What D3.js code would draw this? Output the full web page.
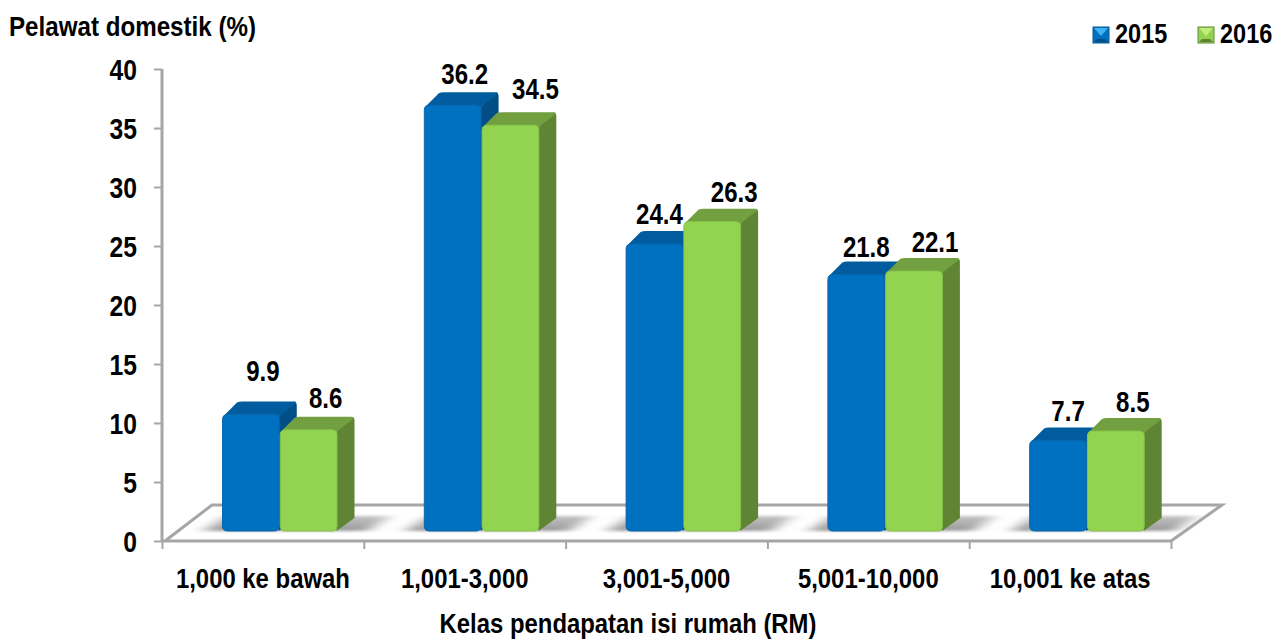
<!DOCTYPE html>
<html><head><meta charset="utf-8">
<script src="https://cdn.jsdelivr.net/npm/d3@7"></script>
<style>
html,body{margin:0;padding:0;background:#fff}
svg{display:block}
text{font-family:"Liberation Sans",Arial,sans-serif;font-weight:700;fill:#000}
</style></head><body>
<svg id="c" width="1288" height="642"></svg>
<script>
const categories = ["1,000 ke bawah","1,001-3,000","3,001-5,000","5,001-10,000","10,001 ke atas"];
const seriesNames = ["2015","2016"];
const values2015 = [9.9,36.2,24.4,21.8,7.7];
const values2016 = [8.6,34.5,26.3,22.1,8.5];
const yTicks = [0,5,10,15,20,25,30,35,40];
const yTitle = "Pelawat domestik (%)";
const xTitle = "Kelas pendapatan isi rumah (RM)";

const labelNudgeX = [[12,17],[12,25],[5,22],[10,21],[10,17]];
const labelNudgeY = [[-13,-1],[0,-5],[1,1],[3,2],[2,2]];

const svg = d3.select("#c");
const GREY = "#a6a6a6";
const y = d3.scaleLinear().domain([0,40]).range([541,69]);
const yFront = d3.scaleLinear().domain([0,40]).range([531,60.5]);
const x = d3.scaleBand().domain(categories).range([162,1171]);
const xIn = d3.scaleBand().domain(seriesNames).range([60,175.5]);
const DX = 17, DY = 13;
const palette = {
  "2015":{front:"#0070c0",edge:"#0a67ad",top:"#005c9f",side:"#004e85",lt:"#3fb4f2",bd:"#0b5a96"},
  "2016":{front:"#92d450",edge:"#86c24a",top:"#72a040",side:"#5f8434",lt:"#c3ec7e",bd:"#648c38"}
};
const rows = seriesNames.map((s,i)=>({s,vals:i?values2016:values2015}));

function label(px,py,str,size,sx,anchor){
  return svg.append("text").attr("transform",`translate(${px},${py}) scale(${sx},1)`)
    .attr("text-anchor",anchor||"middle").attr("font-size",size).text(str);
}

const defs = svg.append("defs");
defs.append("filter").attr("id","blur").attr("x","-30%").attr("y","-60%").attr("width","160%").attr("height","220%")
  .append("feGaussianBlur").attr("stdDeviation","8 1.5");
const sg = defs.append("linearGradient").attr("id","sh").attr("x1",0).attr("x2",0).attr("y1",0).attr("y2",1);
sg.append("stop").attr("offset",0).attr("stop-color","#c4c4c4");
sg.append("stop").attr("offset",1).attr("stop-color","#999");

// floor
const fl = d3.path();
fl.moveTo(165,541);
fl.lineTo(212,505);fl.lineTo(1222,505);fl.lineTo(1171,541);
svg.append("path").attr("d",fl.toString()).attr("fill","none").attr("stroke",GREY).attr("stroke-width",3);

// axes
const gy = svg.append("g").attr("transform","translate(162,0)").call(d3.axisLeft(y).tickValues(yTicks).tickSize(8).tickPadding(16));
const gx = svg.append("g").attr("transform","translate(0,541)").call(d3.axisBottom(d3.scaleLinear().domain([0,5]).range([162,1171])).ticks(5).tickSize(8).tickFormat(""));
[gy,gx].forEach(g=>{
  g.select(".domain").attr("stroke",GREY).attr("stroke-width",3);
  g.selectAll(".tick line").attr("stroke",GREY).attr("stroke-width",2);
});
gy.selectAll(".tick text").attr("font-size",29).attr("font-family",null).style("fill","#000")
  .attr("x",null).attr("dy","0.36em").attr("transform","translate(-25,0) scale(.85,1)");
gy.select(".domain").attr("d","M0,69V541");
gx.select(".domain").attr("d","M162,0H1171");

// shadows
categories.forEach((c,i)=>{
  const l = x(c)+xIn.range()[0];
  svg.append("path").attr("filter","url(#blur)").attr("fill","url(#sh)")
    .attr("d",`M${l-18},531L${l+3},516H${l+168}L${l+145},531Z`);
});

// bars
function rr(x0,y0,w,h,r){return `M${x0+r},${y0}H${x0+w-r}Q${x0+w},${y0} ${x0+w},${y0+r}V${y0+h-r}Q${x0+w},${y0+h} ${x0+w-r},${y0+h}H${x0+r}Q${x0},${y0+h} ${x0},${y0+h-r}V${y0+r}Q${x0},${y0} ${x0+r},${y0}Z`;}
categories.forEach((c,ci)=>{
  rows.forEach((r,ri)=>{
    const p = palette[r.s], v = r.vals[ci];
    const l = x(c)+xIn(r.s), w = xIn.bandwidth(), t = yFront(v), b = yFront(0), g = svg.append("g");
    g.append("path").attr("fill",p.side).attr("d",`M${l+w-1},${t+2}L${l+w+DX-3},${t-DY}Q${l+w+DX},${t-DY} ${l+w+DX},${t-DY+4}V${b-DY}L${l+w-1},${b}Z`);
    g.append("path").attr("fill",p.top).attr("d",`M${l+1},${t+2}L${l+DX-2},${t-DY+1}Q${l+DX},${t-DY} ${l+DX+3},${t-DY}H${l+w+DX-4}Q${l+w+DX},${t-DY} ${l+w+DX-1},${t-DY+2}L${l+w-1},${t+2}Z`);
    g.append("path").attr("fill",p.front).attr("stroke",p.edge).attr("stroke-width",1).attr("d",rr(l+.5,t,w-1,b-t,5));
    label(l+w/2+labelNudgeX[ci][ri], t-DY-8+labelNudgeY[ci][ri], v.toFixed(1), 29, .83);
  });
  label(x(c)+x.bandwidth()/2, 588, c, 27, .885);
});

label(9,36,yTitle,27,.895,"start");
label(628,633,xTitle,27,.885);

// legend
const legX = d3.scalePoint().domain(seriesNames).range([1093,1198]);
seriesNames.forEach(s=>{
  const p = palette[s], l = legX(s), T=27, S=16;
  const g = svg.append("g");
  g.append("rect").attr("x",l).attr("y",T).attr("width",S).attr("height",S).attr("fill",p.front).attr("stroke",p.bd);
  g.append("path").attr("fill",p.lt).attr("d",`M${l+1},${T+1}H${l+S-1}L${l+S/2},${T+S/2+1}Z`);
  g.append("path").attr("fill",p.side).attr("d",`M${l+1},${T+S-1}H${l+S-1}L${l+S-4},${T+S-4}H${l+4}Z`);
  label(l+22,43,s,28,.84,"start");
});
</script>
</body></html>
